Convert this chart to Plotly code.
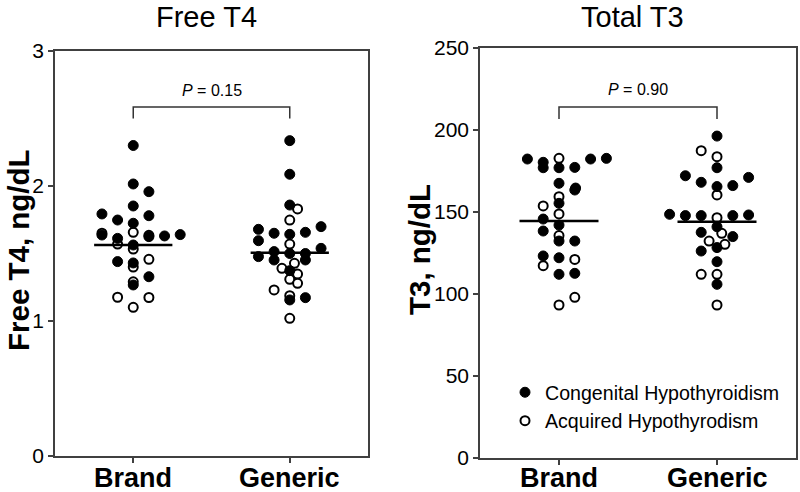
import plotly.graph_objects as go

FONT = "Arial, Liberation Sans, sans-serif"

categories = ["Brand", "Generic"]
panel_titles = ["Free T4", "Total T3"]
y_titles = ["Free T4, ng/dL", "T3, ng/dL"]
p_texts = ["<i>P</i> = 0.15", "<i>P</i> = 0.90"]
legend_names = ["Congenital Hypothyroidism", "Acquired Hypothyrodism"]

# ---- Free T4 (ng/dL) ----
ft4_brand_cong = [2.30, 2.015, 1.958, 1.852, 1.793, 1.78, 1.748, 1.724, 1.637, 1.612,
                  1.625, 1.63, 1.64, 1.563, 1.44, 1.43, 1.328, 1.267]
ft4_brand_cong_slot = [0, 0, 1, 0, -2, 1, -1, 0, -2, -1, 1, 2, 3, 0, -1, 0, 1, 0]
ft4_brand_acq = [1.65, 1.657, 1.635, 1.57, 1.533, 1.40, 1.457, 1.29, 1.176, 1.174, 1.101]
ft4_brand_acq_slot = [-2, 0, 1, -1, 0, 0, 1, 0, -1, 1, 0]
ft4_gen_cong = [2.336, 2.087, 1.859, 1.679, 1.65, 1.642, 1.657, 1.699, 1.595, 1.538,
                1.477, 1.514, 1.452, 1.50, 1.50, 1.452, 1.373, 1.156, 1.173]
ft4_gen_cong_slot = [0, 0, 0, -2, -1, 0, 1, 2, -2, 2, -2, -1, -1, 0, 1, 1, 0, 0, 1]
ft4_gen_acq = [1.83, 1.748, 1.570, 1.427, 1.39, 1.348, 1.309, 1.279, 1.23, 1.187, 1.02]
ft4_gen_acq_slot = [0.5, 0, 0, 0.3, -0.5, 0.5, 0, 0.5, -1, 0, 0]
ft4_median = [1.563, 1.506]
ft4_bracket = [2.585, 2.50]
ft4_p_y = 2.71

# ---- Total T3 (ng/dL) ----
t3_brand_cong = [182.3, 180.3, 177.0, 177.0, 177.2, 182.3, 182.7, 167.5, 163.4, 164.6,
                 155.3, 145.7, 142.0, 138.4, 132.3, 132.3, 123.2, 122.1, 112.0, 112.6]
t3_brand_cong_slot = [-2, -1, -1, 0, 1, 2, 3, 0, 1, 1.05, 0, -1, 0, -1, 0, 1, -1, 0, 0, 1]
t3_brand_acq = [182.7, 159.3, 153.7, 148.8, 135.6, 121.1, 117.3, 98.0, 93.3]
t3_brand_acq_slot = [0, 0, -1, 0, 0, 1, -1, 1, 0]
t3_gen_cong = [196.3, 177.0, 172.1, 168.1, 165.5, 166.1, 171.1, 148.6, 147.8, 147.8,
               147.8, 148.2, 141.0, 137.6, 135.0, 128.3, 126.2, 119.7, 105.9]
t3_gen_cong_slot = [0, 0, -2, -1, 0, 1, 2, -3, -2, -1, 1, 2, 0, -1, 1, 0, -1, 0, 0]
t3_gen_acq = [187.4, 183.7, 160.4, 146.5, 137.0, 132.3, 130.3, 112.0, 112.0, 93.3]
t3_gen_acq_slot = [-1, 0, 0, 0, 0.3, -0.5, 0.5, -1, 0, 0]
t3_median = [144.5, 144.1]
t3_bracket = [214.0, 206.7]
t3_p_y = 224.4

SLOT_W = 0.1
HALF_MED = 0.25

fig = go.Figure()


def add_points(vals, slots, gi, xa, ya, filled, showlegend):
    x = [gi + SLOT_W * s for s in slots]
    if filled:
        marker = dict(symbol="circle", size=10, color="black", line=dict(color="black", width=1))
        name, rank = legend_names[0], 1
    else:
        marker = dict(symbol="circle", size=9, color="white", line=dict(color="black", width=2))
        name, rank = legend_names[1], 2
    fig.add_trace(go.Scatter(x=x, y=vals, mode="markers", marker=marker, name=name,
                             legendgroup=name, legendrank=rank, showlegend=showlegend,
                             xaxis=xa, yaxis=ya, hoverinfo="y"))


# open first, filled drawn on top
add_points(ft4_brand_acq, ft4_brand_acq_slot, 0, "x", "y", False, False)
add_points(ft4_gen_acq, ft4_gen_acq_slot, 1, "x", "y", False, False)
add_points(ft4_brand_cong, ft4_brand_cong_slot, 0, "x", "y", True, False)
add_points(ft4_gen_cong, ft4_gen_cong_slot, 1, "x", "y", True, False)
add_points(t3_brand_acq, t3_brand_acq_slot, 0, "x2", "y2", False, True)
add_points(t3_gen_acq, t3_gen_acq_slot, 1, "x2", "y2", False, False)
add_points(t3_brand_cong, t3_brand_cong_slot, 0, "x2", "y2", True, True)
add_points(t3_gen_cong, t3_gen_cong_slot, 1, "x2", "y2", True, False)

shapes = []
for xr, yr, med, br in [("x", "y", ft4_median, ft4_bracket), ("x2", "y2", t3_median, t3_bracket)]:
    for gi, m in enumerate(med):
        shapes.append(dict(type="line", xref=xr, yref=yr, x0=gi - HALF_MED, x1=gi + HALF_MED,
                           y0=m, y1=m, line=dict(color="black", width=2.5)))
    shapes.append(dict(type="path", xref=xr, yref=yr,
                       path=f"M 0,{br[1]} L 0,{br[0]} L 1,{br[0]} L 1,{br[1]}",
                       line=dict(color="#333333", width=1.5)))

W, H = 800, 492
axis_common = dict(showline=True, linecolor="#404040", linewidth=1.5, mirror=True,
                   ticks="outside", ticklen=5, tickcolor="#404040", tickwidth=1.5,
                   showgrid=False, zeroline=False, automargin=False)

fig.update_layout(
    width=W, height=H,
    margin=dict(l=0, r=0, t=0, b=0, pad=0, autoexpand=False),
    paper_bgcolor="white", plot_bgcolor="white",
    font=dict(family=FONT, color="black"),
    shapes=shapes,
    showlegend=True,
    legend=dict(x=505 / W, y=1 - 406.5 / H, xanchor="left", yanchor="middle",
                font=dict(size=19.6, family=FONT, color="black"), bgcolor="rgba(0,0,0,0)",
                tracegroupgap=0, itemsizing="trace"),
    xaxis=dict(domain=[55 / W, 368 / W], range=[-0.5, 1.5], tickvals=[0, 1],
               showticklabels=False, anchor="y", **axis_common),
    yaxis=dict(domain=[1 - 456 / H, 1 - 51 / H], range=[0, 3], tickvals=[0, 1, 2, 3],
               tickprefix="<b>", ticksuffix="</b>",
               tickfont=dict(size=21, family=FONT), anchor="x", **axis_common),
    xaxis2=dict(domain=[480 / W, 796 / W], range=[-0.5, 1.5], tickvals=[0, 1],
                showticklabels=False, anchor="y2", **axis_common),
    yaxis2=dict(domain=[1 - 458 / H, 1 - 48 / H], range=[0, 250], tickvals=[0, 50, 100, 150, 200, 250],
                tickprefix="<b>", ticksuffix="</b>",
                tickfont=dict(size=21, family=FONT), anchor="x2", **axis_common),
)

annotations = [
    dict(text=panel_titles[0], x=207 / W, y=1, xref="paper", yref="paper", borderpad=0,
         showarrow=False, font=dict(size=29, family=FONT), xanchor="center", yanchor="top"),
    dict(text=panel_titles[1], x=632 / W, y=1, xref="paper", yref="paper", borderpad=0,
         showarrow=False, font=dict(size=29, family=FONT), xanchor="center", yanchor="top"),
    dict(text=f"<b>{y_titles[0]}</b>", x=18 / W, y=1 - 250 / H, xref="paper", yref="paper",
         showarrow=False, textangle=-90, font=dict(size=29.5, family=FONT),
         xanchor="center", yanchor="middle"),
    dict(text=f"<b>{y_titles[1]}</b>", x=419 / W, y=1 - 250 / H, xref="paper", yref="paper",
         showarrow=False, textangle=-90, font=dict(size=29.5, family=FONT),
         xanchor="center", yanchor="middle"),
    dict(text=p_texts[0], x=0.5, y=ft4_p_y, xref="x", yref="y", showarrow=False,
         font=dict(size=16, family=FONT), xanchor="center", yanchor="middle"),
    dict(text=p_texts[1], x=0.5, y=t3_p_y, xref="x2", yref="y2", showarrow=False,
         font=dict(size=16, family=FONT), xanchor="center", yanchor="middle"),
]
for xr in ["x", "x2"]:
    for gi, c in enumerate(categories):
        annotations.append(dict(text=f"<b>{c}</b>", x=gi, y=1 - 478 / H, xref=xr, yref="paper",
                                showarrow=False, font=dict(size=27, family=FONT),
                                xanchor="center", yanchor="middle"))
fig.update_layout(annotations=annotations)

fig.write_html("out.html", config={"displayModeBar": False},
               post_script="document.body.style.margin='0px';")
